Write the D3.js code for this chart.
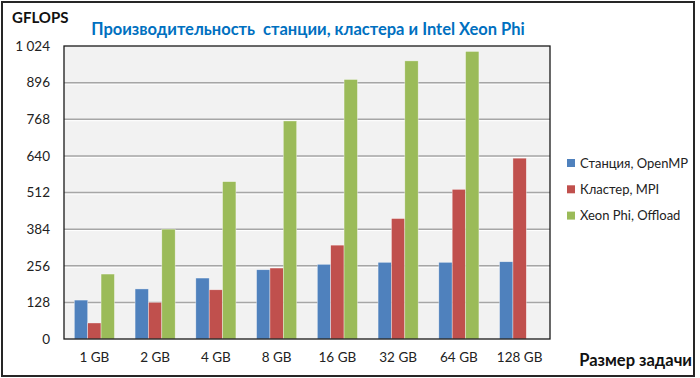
<!DOCTYPE html>
<html>
<head>
<meta charset="utf-8">
<script src="https://cdn.jsdelivr.net/npm/d3@7"></script>
<style>
  body { margin: 0; background: #fff; }
  svg { display: block; font-family: Lato, "Open Sans", sans-serif; }
</style>
</head>
<body>
<div id="chart"></div>
<script>
// data
var categories = ["1 GB", "2 GB", "4 GB", "8 GB", "16 GB", "32 GB", "64 GB", "128 GB"];
var seriesNames = ["Станция, OpenMP", "Кластер, MPI", "Xeon Phi, Offload"];
var stationValues = [136, 175, 213, 242, 261, 268, 268, 270];
var clusterValues = [56, 128, 172, 248, 328, 421, 523, 632];
var xeonValues = [227, 384, 550, 762, 907, 972, 1005, null];
var yTicks = [0, 128, 256, 384, 512, 640, 768, 896, 1024];
var yTickLabels = ["0", "128", "256", "384", "512", "640", "768", "896", "1 024"];
var colors = ["#4F81BD", "#C0504D", "#9BBB59"];

var width = 700, height = 378;
var plot = {left: 64, right: 550, top: 46, bottom: 339};

var svg = d3.select("#chart").append("svg")
  .attr("width", width)
  .attr("height", height);

// outer frame
svg.append("rect")
  .attr("x", 2).attr("y", 2)
  .attr("width", 692).attr("height", 374)
  .attr("fill", "#fff")
  .attr("stroke", "#262626")
  .attr("stroke-width", 2);

var x = d3.scaleBand()
  .domain(categories)
  .range([plot.left, plot.right])
  .paddingInner(0.34)
  .paddingOuter(0.17);

var xSub = d3.scaleBand()
  .domain(d3.range(seriesNames.length))
  .range([0, x.bandwidth()]);

var y = d3.scaleLinear()
  .domain([0, 1024])
  .range([plot.bottom, plot.top]);

// plot background
svg.append("rect")
  .attr("x", plot.left).attr("y", plot.top)
  .attr("width", plot.right - plot.left)
  .attr("height", plot.bottom - plot.top)
  .attr("fill", "#F2F2F2");

// gridlines (grey with a white highlight under them)
var grid = svg.append("g");
grid.selectAll(".gl").data(yTicks.slice(1, -1)).enter().append("line")
  .attr("x1", plot.left).attr("x2", plot.right)
  .attr("y1", d => y(d) + 1.5).attr("y2", d => y(d) + 1.5)
  .attr("stroke", "#fff").attr("stroke-width", 1);
grid.selectAll(".gd").data(yTicks.slice(1, -1)).enter().append("line")
  .attr("x1", plot.left).attr("x2", plot.right)
  .attr("y1", d => y(d)).attr("y2", d => y(d))
  .attr("stroke", "#A6A6A6").attr("stroke-width", 1.5);

// bars
var table = categories.map((c, i) => ({
  cat: c,
  vals: [stationValues[i], clusterValues[i], xeonValues[i]]
}));

var groups = svg.selectAll(".grp").data(table).enter().append("g")
  .attr("transform", d => "translate(" + x(d.cat) + ",0)");

groups.selectAll("rect")
  .data(d => d.vals.map((v, k) => ({k: k, v: v})).filter(e => e.v != null))
  .enter().append("rect")
  .attr("x", d => xSub(d.k))
  .attr("y", d => y(d.v))
  .attr("width", xSub.bandwidth())
  .attr("height", d => y(0) - y(d.v))
  .attr("fill", d => colors[d.k])
  .attr("stroke", "#fff")
  .attr("stroke-opacity", 0.6)
  .attr("stroke-width", 0.6);

// plot frame
svg.append("rect")
  .attr("x", plot.left).attr("y", plot.top)
  .attr("width", plot.right - plot.left)
  .attr("height", plot.bottom - plot.top)
  .attr("fill", "none")
  .attr("stroke", "#1a1a1a")
  .attr("stroke-width", 1.3);

// y axis labels
var yAxis = d3.axisLeft(y)
  .tickValues(yTicks)
  .tickFormat((d, i) => yTickLabels[i])
  .tickSize(0)
  .tickPadding(14);
var yg = svg.append("g")
  .attr("transform", "translate(" + plot.left + ",0)")
  .call(yAxis);
yg.select(".domain").remove();
yg.selectAll("text")
  .attr("font-family", "Lato, sans-serif")
  .attr("font-size", 13.5)
  .attr("fill", "#222");

// x axis labels
var xAxis = d3.axisBottom(x).tickSize(0).tickPadding(13);
var xg = svg.append("g")
  .attr("transform", "translate(0," + plot.bottom + ")")
  .call(xAxis);
xg.select(".domain").remove();
xg.selectAll("text")
  .attr("font-family", "Lato, sans-serif")
  .attr("font-size", 13.5)
  .attr("fill", "#222");

// title and axis names
svg.append("text")
  .attr("x", 308).attr("y", 35)
  .attr("text-anchor", "middle")
  .attr("font-size", 16.5)
  .attr("font-weight", "bold")
  .attr("fill", "#0070C0")
  .text("Производительность  станции, кластера и Intel Xeon Phi")
  .style("white-space", "pre");

svg.append("text")
  .attr("x", 12).attr("y", 23)
  .attr("font-size", 15)
  .attr("font-weight", "bold")
  .attr("fill", "#111")
  .text("GFLOPS");

svg.append("text")
  .attr("x", 692).attr("y", 366)
  .attr("text-anchor", "end")
  .attr("font-size", 16.5)
  .attr("font-weight", "bold")
  .attr("fill", "#111")
  .text("Размер задачи");

// legend
var legend = svg.selectAll(".leg").data(seriesNames).enter().append("g")
  .attr("transform", (d, i) => "translate(567," + (163 + i * 26.3) + ")");
legend.append("rect")
  .attr("x", 0).attr("y", -4)
  .attr("width", 8).attr("height", 8)
  .attr("fill", (d, i) => colors[i]);
legend.append("text")
  .attr("x", 13).attr("y", 4.5)
  .attr("font-size", 13)
  .attr("fill", "#222")
  .text(d => d);
</script>
</body>
</html>
